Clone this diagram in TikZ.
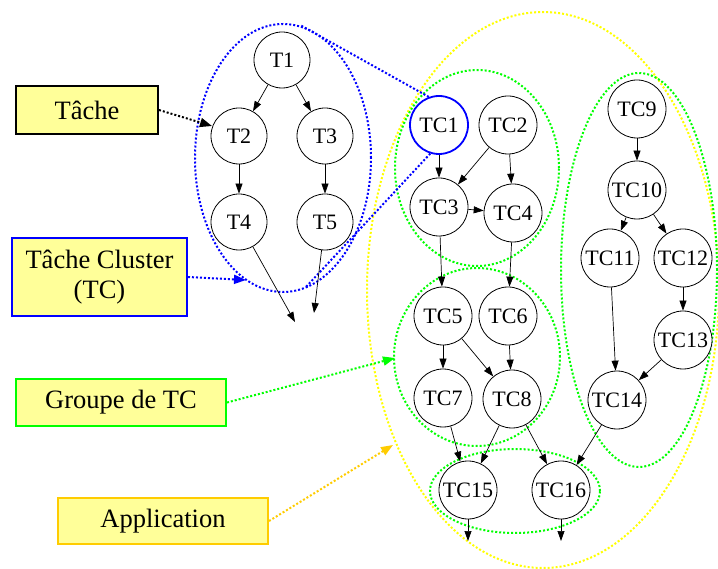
\documentclass[tikz,border=0pt]{standalone}
\usepackage{fontspec}
\setmainfont{Liberation Serif}
\usetikzlibrary{arrows.meta}
\definecolor{boxfill}{RGB}{255,255,153}
\definecolor{gvgreen}{RGB}{0,255,0}
\definecolor{gvblue}{RGB}{0,0,255}
\definecolor{gvyellow}{RGB}{255,255,0}
\definecolor{gvgold}{RGB}{255,204,0}
\tikzset{
  x=1pt, y=-1pt,
  tnode/.style={circle, draw=black, fill=white, line width=0.8pt, minimum size=56pt, inner sep=0pt, font=\fontsize{22}{26}\selectfont},
  tcnode/.style={circle, draw=black, fill=white, line width=0.8pt, minimum size=58pt, inner sep=0pt, font=\fontsize{22}{26}\selectfont},
  edge/.style={line width=0.7pt, -{Triangle[length=10pt,width=7pt]}},
  dotline/.style={line width=2pt, dash pattern=on 2pt off 2pt},
  legend/.style={draw, fill=boxfill, line width=2pt, inner sep=0pt, align=center, font=\fontsize{26.5}{30}\selectfont},
  dotarrow/.style={dotline, -{Triangle[length=12pt,width=9pt]}},
}
\begin{document}
\begin{tikzpicture}
\useasboundingbox (0,0) rectangle (718,569);
% ellipses
\draw[dotline, gvyellow] (543,290) ellipse [x radius=176pt, y radius=278pt];
\draw[dotline, gvblue] (283,158) ellipse [x radius=88pt, y radius=134pt];
\draw[dotline, gvgreen] (477,168) ellipse [x radius=82pt, y radius=98pt];
\draw[dotline, gvgreen] (477,357) ellipse [x radius=83pt, y radius=89pt];
\draw[dotline, gvgreen] (515,491) ellipse [x radius=85pt, y radius=42pt];
\draw[dotline, gvgreen] (639,270) ellipse [x radius=78pt, y radius=197pt];

% T nodes
\node[tnode] (T1) at (282,60) {T1};
\node[tnode] (T2) at (239,136) {T2};
\node[tnode] (T3) at (325,136) {T3};
\node[tnode] (T4) at (239,222) {T4};
\node[tnode] (T5) at (325,222) {T5};
\coordinate (T4out) at (295,322);
\coordinate (T5out) at (314,313);

% TC nodes
\node[tcnode, draw=gvblue, line width=1.8pt] (TC1) at (439,125) {TC1};
\node[tcnode] (TC2) at (508,125) {TC2};
\node[tcnode] (TC3) at (439,207) {TC3};
\node[tcnode] (TC4) at (513,213) {TC4};
\node[tcnode] (TC5) at (443,316) {TC5};
\node[tcnode] (TC6) at (508,316) {TC6};
\node[tcnode] (TC7) at (443,398) {TC7};
\node[tcnode] (TC8) at (512,399) {TC8};
\node[tcnode] (TC9) at (637,109) {TC9};
\node[tcnode] (TC10) at (637,190) {TC10};
\node[tcnode] (TC11) at (610,258) {TC11};
\node[tcnode] (TC12) at (683,258) {TC12};
\node[tcnode] (TC13) at (683,340) {TC13};
\node[tcnode] (TC14) at (617,400) {TC14};
\node[tcnode] (TC15) at (468,490) {TC15};
\node[tcnode] (TC16) at (561,490) {TC16};
\coordinate (TC15out) at (468,541);
\coordinate (TC16out) at (561,541);

% blue zoom lines
\coordinate (b1) at (300,25);
\coordinate (b2) at (305,288);
\draw[dotline, gvblue] (TC1.110) -- (b1);
\draw[dotline, gvblue] (TC1.253) -- (b2);

% T edges
\draw[edge] (T1) -- (T2);
\draw[edge] (T1) -- (T3);
\draw[edge] (T2) -- (T4);
\draw[edge] (T3) -- (T5);
\draw[edge] (T4) -- (T4out);
\draw[edge] (T5) -- (T5out);

% TC edges
\draw[edge] (TC1) -- (TC3);
\draw[edge] (TC2) -- (TC3);
\draw[edge] (TC2) -- (TC4);
\draw[edge] (TC3) -- (TC4);
\draw[edge] (TC3) -- (TC5);
\draw[edge] (TC4) -- (TC6);
\draw[edge] (TC5) -- (TC7);
\draw[edge] (TC5) -- (TC8);
\draw[edge] (TC6) -- (TC8);
\draw[edge] (TC7) -- (TC15);
\draw[edge] (TC8) -- (TC15);
\draw[edge] (TC8) -- (TC16);
\draw[edge] (TC9) -- (TC10);
\draw[edge] (TC10) -- (TC11);
\draw[edge] (TC10) -- (TC12);
\draw[edge] (TC11) -- (TC14);
\draw[edge] (TC12) -- (TC13);
\draw[edge] (TC13) -- (TC14);
\draw[edge] (TC14) -- (TC16);
\draw[edge] (TC15) -- (TC15out);
\draw[edge] (TC16) -- (TC16out);

% legend boxes
\node[legend, draw=black, minimum width=142pt, minimum height=48pt] (Lt) at (87,110) {Tâche};
\node[legend, draw=gvblue, minimum width=175pt, minimum height=78pt] (Ltc) at (99.5,277) {Tâche Cluster\\(TC)};
\node[legend, draw=gvgreen, minimum width=210pt, minimum height=47pt] (Lg) at (121,402.5) {Groupe de TC};
\node[legend, draw=gvgold, minimum width=210pt, minimum height=46pt] (La) at (163,521) {Application};

\coordinate (at) at (212,126);
\coordinate (atc) at (246,280);
\coordinate (ag) at (395,358);
\coordinate (aa) at (393,445);
\draw[dotarrow, black] (Lt.east) -- (at);
\draw[dotarrow, gvblue] (Ltc.east) -- (atc);
\draw[dotarrow, gvgreen] (Lg.east) -- (ag);
\draw[dotarrow, gvgold] (La.east) -- (aa);
\end{tikzpicture}
\end{document}
